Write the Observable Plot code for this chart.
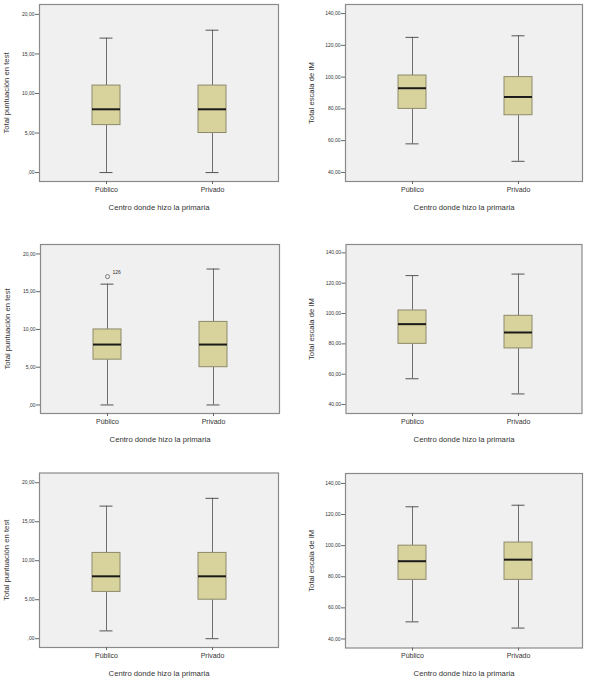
<!DOCTYPE html>
<html>
<head>
<meta charset="utf-8">
<script src="https://cdn.jsdelivr.net/npm/d3@7"></script>
<script src="https://cdn.jsdelivr.net/npm/@observablehq/plot@0.6"></script>
<style>
  html, body { margin: 0; padding: 0; background: #fff; }
  #wrap { position: relative; width: 589px; height: 683px; background: #fff; }
  .panel { position: absolute; }
  .panel svg { overflow: visible; display: block; }
</style>
</head>
<body>
<div id="wrap"></div>
<script>
// ---- data ----
const categorias = ["Público", "Privado"];
const etiquetaX = "Centro donde hizo la primaria";
const etiquetaTest = "Total puntuación en test";
const etiquetaIM = "Total escala de IM";
const ticksTest = [0, 5, 10, 15, 20];
const ticksIM = [40, 60, 80, 100, 120, 140];

// [min, Q1, mediana, Q3, max] per category (Público, Privado)
const test1 = [[0, 6, 8, 11, 17], [0, 5, 8, 11, 18]];
const im1   = [[58, 80, 93, 101, 125], [47, 76, 87.5, 100, 126]];
const test2 = [[0, 6, 8, 10, 16], [0, 5, 8, 11, 18]];
const im2   = [[57, 80, 93, 102, 125], [47, 77, 87.5, 98.5, 126]];
const test3 = [[1, 6, 8, 11, 17], [0, 5, 8, 11, 18]];
const im3   = [[51, 78, 90, 100, 125], [47, 78, 91, 102, 126]];

// atípicos: categoría, valor, caso
const atipicosTest2Cat = ["Público"];
const atipicosTest2Val = [17];
const atipicosTest2Id = ["126"];

// ---- drawing ----
const FONT = "'Liberation Sans', Arial, Helvetica, sans-serif";
const fmt = d => (d === 0 ? "" : String(d)) + ",00";

function rowsFrom(arr) {
  return categorias.map((c, i) => ({
    cat: c, min: arr[i][0], q1: arr[i][1], med: arr[i][2], q3: arr[i][3], max: arr[i][4]
  }));
}

function panel(cfg) {
  const rows = rowsFrom(cfg.values);
  const outs = (cfg.outCat || []).map((c, i) => ({cat: c, value: cfg.outVal[i], id: cfg.outId[i]}));
  const fL = cfg.fL;
  const plot = Plot.plot({
    width: cfg.w, height: cfg.h,
    marginLeft: cfg.fL, marginTop: cfg.fT, marginRight: cfg.fR, marginBottom: cfg.fB,
    style: {fontFamily: FONT, background: "transparent", color: "#333", overflow: "visible"},
    x: {type: "band", domain: categorias, range: [fL + 52, fL + 187], paddingInner: 0.738, paddingOuter: 0},
    y: {domain: cfg.domain},
    marks: [
      Plot.frame({fill: "#f0f0f0", stroke: "#8a8a8a", strokeWidth: 1.2}),
      Plot.ruleX(rows, {x: "cat", y1: "min", y2: "q1", stroke: "#6e6e6e", strokeWidth: 1}),
      Plot.ruleX(rows, {x: "cat", y1: "q3", y2: "max", stroke: "#6e6e6e", strokeWidth: 1}),
      Plot.tickY(rows, {x: "cat", y: "min", insetLeft: 7.5, insetRight: 7.5, stroke: "#555", strokeWidth: 1}),
      Plot.tickY(rows, {x: "cat", y: "max", insetLeft: 7.5, insetRight: 7.5, stroke: "#555", strokeWidth: 1}),
      Plot.barY(rows, {x: "cat", y1: "q1", y2: "q3", fill: "#d8d29c", stroke: "#8d8a6b", strokeWidth: 1}),
      Plot.tickY(rows, {x: "cat", y: "med", stroke: "#1a1a1a", strokeWidth: 2}),
      Plot.dot(outs, {x: "cat", y: "value", r: 2, stroke: "#777", fill: "#f4f4f4", strokeWidth: 1}),
      Plot.text(outs, {x: "cat", y: "value", text: "id", dx: 5, dy: -4, textAnchor: "start", fontSize: 5, fill: "#333"}),
      Plot.axisY({ticks: cfg.ticks, tickFormat: fmt, tickSize: 4, tickPadding: 1, fontSize: 5, stroke: "#666", label: null}),
      Plot.axisX({tickSize: 3, tickPadding: 2.5, fontSize: 7, stroke: "#666", label: null}),
      Plot.text([cfg.ylabel], {frameAnchor: "left", textAnchor: "middle", rotate: -90, dx: -cfg.ldx, fontSize: 7.7, fill: "#333"}),
      Plot.text([etiquetaX], {frameAnchor: "bottom", textAnchor: "middle", dy: 28, fontSize: 7.7, fill: "#333"})
    ]
  });
  const div = document.createElement("div");
  div.className = "panel";
  div.style.left = cfg.left + "px";
  div.style.top = cfg.top + "px";
  div.appendChild(plot);
  document.getElementById("wrap").appendChild(div);
}

const domTest = [-1.13, 21.25];
panel({left: 0,   top: 0,   w: 295, h: 230, fL: 39, fT: 4,  fR: 17, fB: 49,
       domain: domTest, ticks: ticksTest, ylabel: etiquetaTest, values: test1, ldx: 33});
panel({left: 295, top: 0,   w: 294, h: 230, fL: 50, fT: 4,  fR: 7,  fB: 49,
       domain: [34.3, 145.7], ticks: ticksIM, ylabel: etiquetaIM, values: im1, ldx: 34});
panel({left: 0,   top: 230, w: 295, h: 233, fL: 40, fT: 14, fR: 16, fB: 50,
       domain: domTest, ticks: ticksTest, ylabel: etiquetaTest, values: test2, ldx: 33,
       outCat: atipicosTest2Cat, outVal: atipicosTest2Val, outId: atipicosTest2Id});
panel({left: 295, top: 230, w: 294, h: 233, fL: 50.5, fT: 14, fR: 7.5, fB: 50,
       domain: [34.1, 145.5], ticks: ticksIM, ylabel: etiquetaIM, values: im2, ldx: 34});
panel({left: 0,   top: 463, w: 295, h: 220, fL: 39, fT: 9.5, fR: 17, fB: 36,
       domain: domTest, ticks: ticksTest, ylabel: etiquetaTest, values: test3, ldx: 33});
panel({left: 295, top: 463, w: 294, h: 220, fL: 50, fT: 10, fR: 7, fB: 35.5,
       domain: [34.2, 146.4], ticks: ticksIM, ylabel: etiquetaIM, values: im3, ldx: 34});
</script>
</body>
</html>
